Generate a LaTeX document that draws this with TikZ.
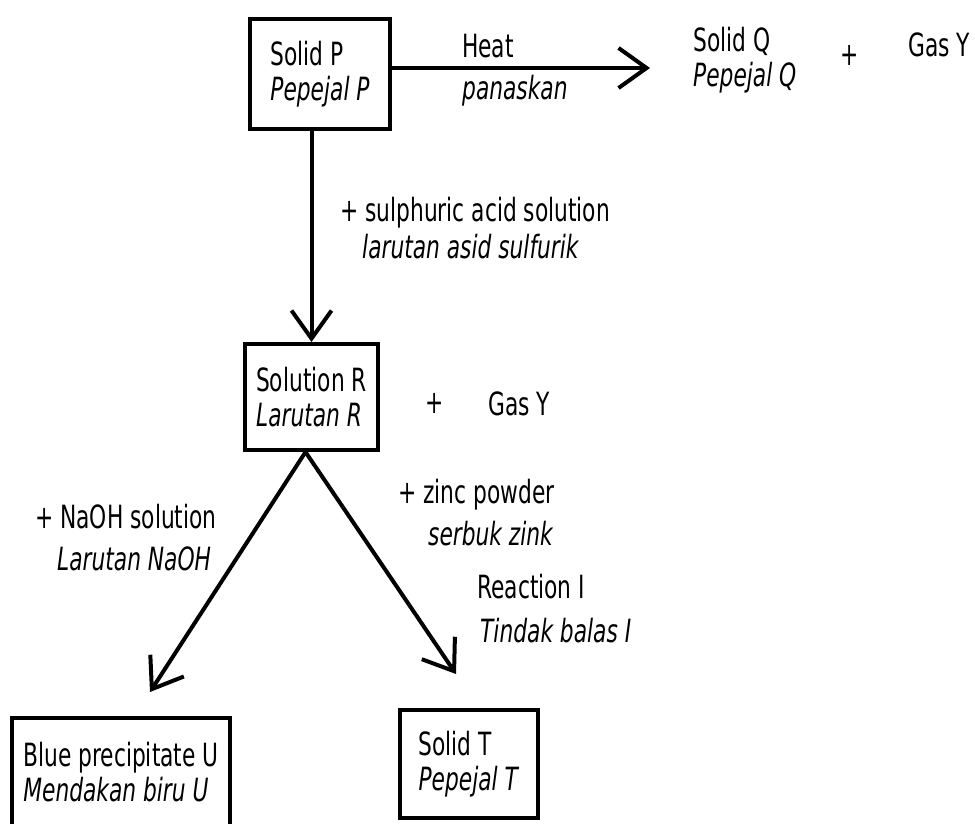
\documentclass[tikz,border=0pt]{standalone}
\usepackage{fontspec}
\setmainfont{DejaVu Sans}[FakeStretch=0.68]
\usetikzlibrary{arrows.meta}
\tikzstyle{box} = [rectangle, draw=black, line width=4pt, align=left, font=\fontsize{32}{35}\selectfont]
\tikzstyle{lbl} = [align=left, anchor=base west, inner sep=0pt, font=\fontsize{32}{42}\selectfont]
\tikzstyle{plus} = [inner sep=0pt, font=\fontsize{32}{42}\selectfont]
\tikzstyle{arrow} = [line width=4pt, -{Straight Barb[length=28pt,width=40pt]}]

\begin{document}
\begin{tikzpicture}[x=1pt, y=1pt, yscale=-1]
\useasboundingbox (0,0) rectangle (975,824);

\node at (320,74) (solidP) [box, minimum width=140pt, minimum height=110pt] {Solid P\\\textit{Pepejal P}};
\node at (311.5,397) (solR) [box, minimum width=133pt, minimum height=106pt] {Solution R\\\textit{Larutan R}};
\node at (121,772) (precU) [box, minimum width=218pt, minimum height=108pt] {Blue precipitate U\\\textit{Mendakan biru U}};
\node at (469,764) (solidT) [box, minimum width=138pt, minimum height=108pt] {Solid T\\\textit{Pepejal T}};

\coordinate (heattip) at (650,68);
\coordinate (utip) at (150,692);
\coordinate (ttip) at (456,674);

% products of heating
\node at (693,87) (solidQ) [lbl, font=\fontsize{32}{35}\selectfont] {Solid Q\\\textit{Pepejal Q}};
\node at (850,55) (plusQ) [plus] {+};
\node at (908,57) (gasQ) [lbl] {Gas Y};
\node at (435,403) (plusR) [plus] {+};
\node at (488,415) (gasR) [lbl] {Gas Y};

\draw [arrow] (solidP.east |- heattip) -- (heattip);
\node at (462,100) (heat) [lbl] {Heat\\\textit{panaskan}};

\draw [arrow] (solidP.south -| solR.north) -- (solR.north);
\node at (340,258) (acid) [lbl, font=\fontsize{32}{36}\selectfont] {+ sulphuric acid solution\\\hspace*{22pt}\textit{larutan asid sulfurik}};

\draw [arrow] ([xshift=-6pt]solR.south) -- (utip);
\node at (35,570) (naoh) [lbl] {+ NaOH solution\\\hspace*{22pt}\textit{Larutan NaOH}};

\draw [arrow] ([xshift=-6pt]solR.south) -- (ttip);
\node at (398,545) (zinc) [lbl] {+ zinc powder\\\hspace*{30pt}\textit{serbuk zink}};
\node at (477,642) (react) [lbl, font=\fontsize{32}{44}\selectfont] {Reaction I\\\hspace*{3pt}\textit{Tindak balas I}};

\end{tikzpicture}
\end{document}
